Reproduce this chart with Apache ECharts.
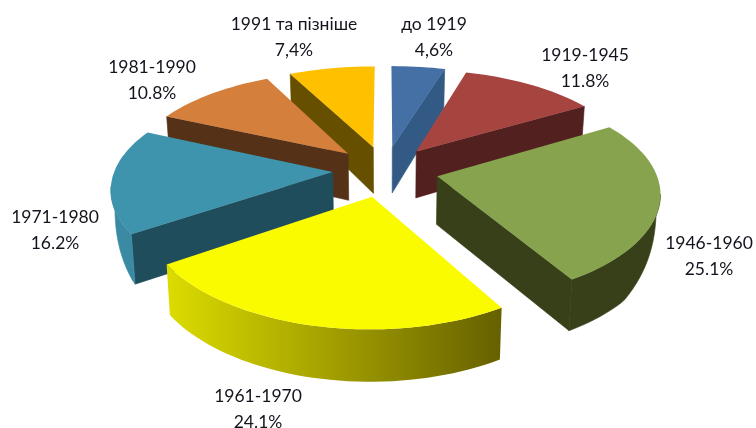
<!DOCTYPE html>
<html>
<head>
<meta charset="utf-8">
<style>html,body{margin:0;padding:0;background:#fff}#main{width:756px;height:428px}</style>
<script src="https://cdn.jsdelivr.net/npm/echarts@6/dist/echarts.min.js"></script>
</head>
<body>
<div id="main"></div>
<script>
var categories = ['до 1919', '1919-1945', '1946-1960', '1961-1970', '1971-1980', '1981-1990', '1991 та пізніше'];
var values = [4.6, 11.8, 25.1, 24.1, 16.2, 10.8, 7.4];
var valueLabels = ['4,6%', '11.8%', '25.1%', '24.1%', '16.2%', '10.8%', '7,4%'];

var topColors = ['#4470a5', '#a64440', '#87a34d', '#fbfb00', '#3f94ad', '#d4803c', '#ffc000'];
var cutColors = ['#335a85', '#532020', '#374019', '#5c5c00', '#204d5c', '#553118', '#665000'];
var rimColors = [
  '#335a85', '#532020', '#374019',
  {type: 'linear', x: 0, y: 0, x2: 1, y2: 0, colorStops: [{offset: 0, color: '#dcdc00'}, {offset: 1, color: '#666000'}]},
  '#3a8aa3', '#553118', '#665000'
];
var labelCenters = [[434, 37], [585, 68], [709, 256], [258, 409], [55, 230], [152, 80], [294, 37]];
var explode = [0.24, 0.24, 0.245, 0.26, 0.24, 0.24, 0.24];

// fake perspective, fitted by eye on the reference
var cx = 385, cy = 170, A = 218, B = 101, P = 0.164, PX = 0.14;

function project(wx, wy) {
  var s = 1 / (1 - P * wy);
  var sx = 1 / (1 - PX * wy);
  return {x: cx + A * wx * sx, y: cy + B * wy * s, s: s};
}
function down(p, f) {
  // point of the lower plane under a point of the top face
  var d = p.s < 1 ? 48 * Math.pow(p.s, 1.05) : 48 * Math.pow(p.s, 0.38);
  return [cx + (p.x - cx) * 0.985, p.y + d * (f === undefined ? 1 : f)];
}
function toDeg(a) { return a * Math.PI / 180; }

var total = values.reduce(function (a, b) { return a + b; }, 0);
var acc = 0;
var slices = values.map(function (v, i) {
  var start = acc / total * 360;
  acc += v;
  var end = acc / total * 360;
  var mid = toDeg((start + end) / 2);
  return {i: i, start: start, end: end, ox: explode[i] * Math.sin(mid), oy: -explode[i] * Math.cos(mid)};
});
// back to front
var order = slices.slice().sort(function (a, b) { return a.oy - b.oy; });

function rimPoint(sl, deg) {
  var a = toDeg(deg);
  return project(sl.ox + Math.sin(a), sl.oy - Math.cos(a));
}
// the side wall thins out to nothing where the rim turns away
var RIM_FROM = 100, RIM_TO = 262;
function taper(deg) {
  var k = Math.min(1, (deg - RIM_FROM) / 30, (RIM_TO - deg) / 25);
  return Math.sqrt(Math.max(0, k));
}
function xy(p) { return [p.x, p.y]; }
function flat(fill) { return {fill: fill, stroke: fill, lineWidth: 0.6}; }
function quad(a, b, fill) {
  return {type: 'polygon', shape: {points: [xy(a), xy(b), down(b), down(a)]}, style: flat(fill), silent: true};
}

function renderSlice(params, api) {
  var sl = slices[api.value(0)];
  var i = sl.i;
  var apex = project(sl.ox, sl.oy);
  var kids = [], k, n, deg;
  if (sl.end < 180) kids.push(quad(apex, rimPoint(sl, sl.end), cutColors[i]));
  if (sl.start > 180) kids.push(quad(apex, rimPoint(sl, sl.start), cutColors[i]));
  var from = Math.max(sl.start, RIM_FROM), to = Math.min(sl.end, RIM_TO);
  if (to > from) {
    var upper = [], lower = [];
    n = Math.ceil((to - from) / 2);
    for (k = 0; k <= n; k++) {
      deg = from + (to - from) * k / n;
      var p = rimPoint(sl, deg);
      upper.push(xy(p));
      lower.unshift(down(p, taper(deg)));
    }
    kids.push({
      type: 'polygon', shape: {points: upper.concat(lower)}, silent: true,
      style: typeof rimColors[i] === 'string' ? flat(rimColors[i]) : {fill: rimColors[i]}
    });
  }
  var face = [xy(apex)];
  n = Math.ceil((sl.end - sl.start) / 2);
  for (k = 0; k <= n; k++) face.push(xy(rimPoint(sl, sl.start + (sl.end - sl.start) * k / n)));
  kids.push({type: 'polygon', shape: {points: face}, style: {fill: topColors[i]}, silent: true});
  kids.push({
    type: 'text', x: labelCenters[i][0], y: labelCenters[i][1], silent: true,
    style: {
      text: categories[i] + '\n' + valueLabels[i],
      fill: '#14141f', font: '17.5px Lato', lineHeight: 26,
      align: 'center', verticalAlign: 'middle'
    }
  });
  return {type: 'group', children: kids};
}

var myChart = echarts.init(document.getElementById('main'));
var option = {
  backgroundColor: '#fff',
  animation: false,
  series: [{
    type: 'custom',
    coordinateSystem: 'none',
    renderItem: renderSlice,
    data: order.map(function (sl) { return {name: categories[sl.i], value: [sl.i, values[sl.i]]}; })
  }]
};
myChart.setOption(option);
</script>
</body>
</html>
